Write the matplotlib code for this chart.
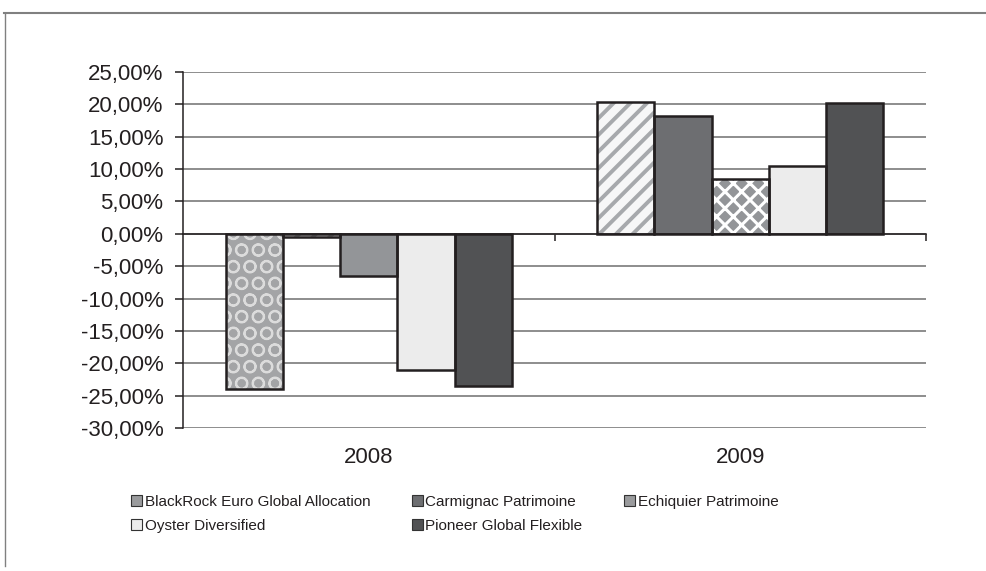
import matplotlib
matplotlib.use("Agg")
import matplotlib.pyplot as plt
from matplotlib.lines import Line2D
from matplotlib.patches import Patch
from matplotlib.transforms import offset_copy
import numpy as np

plt.rcParams['font.family'] = ['Liberation Sans', 'DejaVu Sans']

years = ["2008", "2009"]
funds = ["BlackRock Euro Global Allocation", "Carmignac Patrimoine",
         "Echiquier Patrimoine", "Oyster Diversified", "Pioneer Global Flexible"]
values = {
    "BlackRock Euro Global Allocation": [-23.9, 20.3],
    "Carmignac Patrimoine": [-0.55, 18.2],
    "Echiquier Patrimoine": [-6.5, 8.4],
    "Oyster Diversified": [-21.05, 10.5],
    "Pioneer Global Flexible": [-23.5, 20.2],
}
yticks = [25, 20, 15, 10, 5, 0, -5, -10, -15, -20, -25, -30]

legend_colors = ["#9a9b9d", "#6d6e71", "#9a9b9d", "#ececec", "#515254"]
# per-bar fill styles (face, hatch, hatch colour, hatch width)
styles = [
    [("#a3a4a6", "O", "#dcdcdc", 1.4), ("#f7f7f7", "//", "#a7a9ac", 2.8)],
    [("#f7f7f7", "//", "#a7a9ac", 2.8), ("#6d6e71", None, None, 0)],
    [("#939598", None, None, 0), ("#939598", "xx", "#ffffff", 2.2)],
    [("#ececec", None, None, 0), ("#ececec", None, None, 0)],
    [("#515254", None, None, 0), ("#515254", None, None, 0)],
]

fig = plt.figure(figsize=(9.86, 5.71), dpi=100)
ax = fig.add_axes([183/986, 1-428/571, (926-183)/986, (428-72)/571])

x = np.arange(len(years))
w = 0.154
for k, f in enumerate(funds):
    pos = x + (k - 2) * w
    vals = values[f]
    for j in range(len(years)):
        face, hatch, hcol, hlw = styles[k][j]
        if hatch:
            with plt.rc_context({'hatch.linewidth': hlw}):
                ax.bar(pos[j], vals[j], width=w, facecolor=face, edgecolor=hcol,
                       hatch=hatch, linewidth=0, zorder=3)
        else:
            ax.bar(pos[j], vals[j], width=w, facecolor=face, linewidth=0, zorder=3)
        ax.bar(pos[j], vals[j], width=w, facecolor='none', edgecolor='#231f20',
               linewidth=1.8, zorder=4)

ax.set_xlim(-0.5, 1.5)
ax.set_ylim(-30, 25)
ax.set_yticks(yticks)
ax.set_yticklabels([f"{t:.2f}%".replace('.', ',') for t in yticks],
                   fontsize=16, color='#231f20')
ax.yaxis.grid(True, color='#6f6f6f', linewidth=1.1, zorder=0)
ax.set_axisbelow(True)
for s in ['top', 'right']:
    ax.spines[s].set_visible(False)
ax.spines['left'].set_color('#231f20')
ax.spines['left'].set_linewidth(1.1)
ax.spines['bottom'].set_position(('data', 0))
ax.spines['bottom'].set_color('#231f20')
ax.spines['bottom'].set_linewidth(1.1)
ax.spines['bottom'].set_zorder(5)
ax.set_xticks([0.5, 1.5])
ax.set_xticklabels([])
ax.tick_params(axis='x', direction='out', length=5, width=1.1, color='#231f20')
ax.tick_params(axis='y', direction='out', length=6, width=1.1, color='#231f20', pad=8)

lab_tr = offset_copy(ax.get_xaxis_transform(), fig=fig, x=0, y=-14, units='points')
for i, yr in enumerate(years):
    ax.text(i, 0, yr, ha='center', va='top', fontsize=16, color='#231f20',
            transform=lab_tr)

handles = [Patch(facecolor=c, edgecolor='#333333', linewidth=0.8) for c in legend_colors]
order = [0, 3, 1, 4, 2]
leg = fig.legend([handles[i] for i in order], [funds[i] for i in order],
                 ncol=3, loc='upper left', bbox_to_anchor=(131/986, 1-495/571),
                 frameon=False, fontsize=11, handlelength=0.75, handleheight=0.75,
                 handletextpad=0.15, columnspacing=2.7, labelspacing=0.65,
                 borderaxespad=0, borderpad=0)
for t in leg.get_texts():
    t.set_color('#231f20')

fig.add_artist(Line2D([4/986, 1], [1-12.5/571, 1-12.5/571], color='#808080', linewidth=1.5))
fig.add_artist(Line2D([4.5/986, 4.5/986], [1-12.5/571, 1-566/571], color='#808080', linewidth=1.0))

fig.savefig("out.png", dpi=100)
